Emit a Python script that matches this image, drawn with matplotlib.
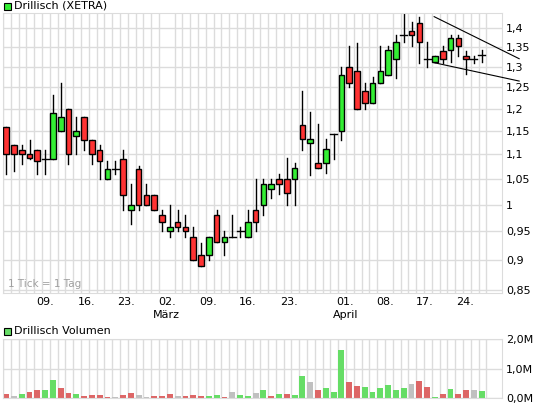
import matplotlib
matplotlib.use("Agg")
import matplotlib.pyplot as plt
from matplotlib.patches import Rectangle
from matplotlib.ticker import FixedLocator, NullLocator, NullFormatter
import numpy as np

opens  = [1.16,1.12,1.11,1.10,1.11,1.09,1.09,1.15,1.20,1.14,1.182,1.13,1.11,1.05,1.07,1.09,0.989,1.07,1.019,1.019,
          0.98,0.95,0.968,0.958,0.94,0.908,0.908,0.98,0.932,0.94,0.95,0.94,0.99,1.00,1.03,1.05,1.05,1.05,1.163,1.124,
          1.083,1.083,1.143,1.15,1.30,1.29,1.241,1.214,1.26,1.28,1.32,1.38,1.392,1.412,1.32,1.312,1.34,1.343,1.372,1.328,1.32,1.33]
closes = [1.10,1.10,1.10,1.092,1.086,1.09,1.19,1.182,1.10,1.15,1.13,1.10,1.086,1.07,1.07,1.019,1.00,1.00,1.00,0.989,
          0.968,0.958,0.958,0.95,0.90,0.89,0.94,0.932,0.94,0.94,0.95,0.968,0.968,1.04,1.04,1.04,1.022,1.072,1.132,1.132,
          1.072,1.112,1.143,1.28,1.26,1.20,1.214,1.26,1.29,1.343,1.362,1.38,1.38,1.362,1.32,1.328,1.32,1.372,1.352,1.32,1.32,1.33]
highs  = [1.16,1.12,1.12,1.13,1.11,1.11,1.232,1.26,1.20,1.182,1.182,1.13,1.12,1.086,1.086,1.11,1.04,1.077,1.04,1.019,
          0.99,1.00,0.99,0.98,0.958,0.93,0.94,0.99,0.95,0.98,0.958,0.99,1.05,1.05,1.05,1.06,1.093,1.083,1.241,1.193,
          1.165,1.132,1.143,1.30,1.352,1.36,1.26,1.275,1.352,1.352,1.38,1.44,1.415,1.43,1.362,1.328,1.352,1.38,1.38,1.34,1.328,1.342]
lows   = [1.06,1.066,1.08,1.09,1.06,1.06,1.09,1.15,1.08,1.10,1.11,1.08,1.05,1.05,1.06,0.989,0.963,0.989,1.00,0.989,
          0.95,0.94,0.95,0.94,0.90,0.89,0.90,0.932,0.908,0.94,0.94,0.94,0.95,0.98,1.013,1.02,1.00,1.00,1.11,1.057,
          1.072,1.062,1.09,1.13,1.25,1.20,1.20,1.214,1.26,1.28,1.272,1.362,1.352,1.31,1.30,1.312,1.31,1.312,1.328,1.282,1.31,1.312]
volumes = [0.14,0.07,0.14,0.2,0.27,0.27,0.61,0.34,0.18,0.14,0.07,0.1,0.1,0.03,0.03,0.1,0.18,0.1,0.03,0.07,
           0.07,0.14,0.07,0.07,0.1,0.07,0.07,0.1,0.03,0.2,0.1,0.07,0.18,0.27,0.07,0.14,0.14,0.1,0.75,0.55,
           0.27,0.34,0.2,1.64,0.55,0.41,0.38,0.2,0.34,0.44,0.27,0.34,0.48,0.58,0.38,0.03,0.14,0.31,0.14,0.27,0.27,0.24]
vol_dir = ["r","n","g","r","r","g","g","r","r","g","r","r","r","r","n","r","r","n","n","r",
           "r","r","n","r","r","r","g","g","r","n","g","g","n","g","r","g","r","g","g","n",
           "r","g","g","g","r","r","g","g","g","g","g","g","n","r","r","g","r","g","r","r","n","g"]
tick_pos = [5, 10.3, 15.4, 20.6, 25.9, 31, 36.3, 43.5, 48.6, 53.7, 58.8]
tick_labels = ["09.", "16.", "23.", "02.", "09.", "16.", "23.", "01.", "08.", "17.", "24."]
month_pos = [20.6, 43.5]
month_labels = ["März", "April"]
price_ticks = [0.85, 0.9, 0.95, 1.0, 1.05, 1.1, 1.15, 1.2, 1.25, 1.3, 1.35, 1.4]
tri_upper_x = [54.9, 65.8]; tri_upper_y = [1.43, 1.32]
tri_lower_x = [54.9, 65.8]; tri_lower_y = [1.31, 1.265]

RED = "#ff3333"; GREEN = "#33ee33"
VCOL = {"r": "#dd6666", "g": "#66dd66", "n": "#c0c0c0"}
GRID = "#dcdcdc"
W, H = 545, 407
fig = plt.figure(figsize=(W/100, H/100), dpi=100)
def rect(l, t, r, b):
    return [l/W, 1-b/H, (r-l)/W, (b-t)/H]
ax = fig.add_axes(rect(3, 13, 502, 293))
av = fig.add_axes(rect(3, 339, 502, 398))
n = len(opens)
xs = np.arange(n)
xl = (-0.4, 63.6)
for a in (ax, av):
    a.set_xlim(*xl)
    a.set_xticks(np.arange(n+1) - 0.4, minor=True)
    a.grid(True, which="minor", axis="x", color=GRID, lw=1)
    a.grid(True, which="major", axis="y", color=GRID, lw=1)
    a.tick_params(which="both", length=0)
    for s in a.spines.values():
        s.set_color(GRID)
    a.set_axisbelow(True)

ax.set_yscale("log")
ax.set_ylim(0.845, 1.44)
ax.yaxis.set_major_locator(FixedLocator(price_ticks))
ax.yaxis.set_minor_locator(NullLocator())
ax.yaxis.set_minor_formatter(NullFormatter())
ax.set_yticklabels([f"{p:g}".replace(".", ",") for p in price_ticks])
ax.yaxis.tick_right()
ax.tick_params(axis="y", labelsize=8, pad=3)
ax.set_xticks(tick_pos)
ax.set_xticklabels(tick_labels, fontsize=8)
ax.tick_params(axis="x", pad=3)
for p, m in zip(month_pos, month_labels):
    ax.text(p, -0.06, m, transform=ax.get_xaxis_transform(), ha="center", va="top", fontsize=8)

bw = 0.72
for i in range(n):
    o, c, h, l = opens[i], closes[i], highs[i], lows[i]
    ax.plot([i, i], [l, h], color="black", lw=1, zorder=2)
    if abs(o - c) < 1e-9:
        ax.plot([i-0.45, i+0.45], [o, o], color="black", lw=1, zorder=3)
    else:
        col = GREEN if c > o else RED
        ax.add_patch(Rectangle((i-bw/2, min(o, c)), bw, abs(c-o), facecolor=col,
                               edgecolor="black", lw=1, zorder=3))
ax.plot(tri_upper_x, tri_upper_y, color="black", lw=0.8, clip_on=False, zorder=4)
ax.plot(tri_lower_x, tri_lower_y, color="black", lw=0.8, clip_on=False, zorder=4)
ax.text(0.01, 0.02, "1 Tick = 1 Tag", transform=ax.transAxes, fontsize=7.5, color="#a0a0a0")

av.bar(xs, volumes, width=0.75, color=[VCOL[d] for d in vol_dir], zorder=2)
av.set_ylim(0, 2.0)
av.set_yticks([0, 1, 2])
av.set_yticklabels(["0,0M", "1,0M", "2,0M"])
av.yaxis.tick_right()
av.tick_params(axis="y", labelsize=8, pad=3)
av.set_xticks([])

fig.patches.append(Rectangle((4/W, 1-10/H), 7/W, 7/H, transform=fig.transFigure,
                             facecolor=GREEN, edgecolor="black", lw=0.8))
fig.text(14/W, 1-6/H, "Drillisch (XETRA)", fontsize=8, va="center")
fig.patches.append(Rectangle((4/W, 1-335/H), 7/W, 7/H, transform=fig.transFigure,
                             facecolor="#66dd66", edgecolor="black", lw=0.8))
fig.text(14/W, 1-331/H, "Drillisch Volumen", fontsize=8, va="center")
fig.savefig("out.png", dpi=100, facecolor="white")
